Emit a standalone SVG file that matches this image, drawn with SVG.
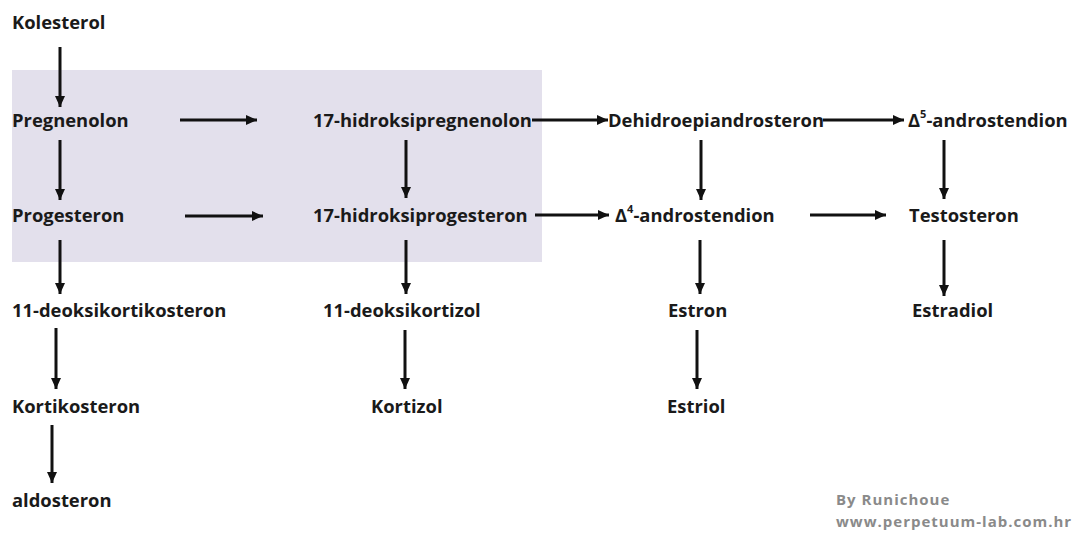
<svg xmlns="http://www.w3.org/2000/svg" width="1077" height="533" viewBox="0 0 1077 533">
<style>
.t{font-family:"Open Sans","Liberation Sans",sans-serif;font-weight:bold;font-size:18.4px;fill:#1a1a1a;dominant-baseline:central}
.c{font-family:"Open Sans","Liberation Sans",sans-serif;font-weight:bold;font-size:15px;letter-spacing:1px;fill:#8a8a8a;dominant-baseline:central}
.a{stroke:#111;stroke-width:3;fill:none;marker-end:url(#ah)}
</style>
<defs>
<marker id="ah" markerUnits="userSpaceOnUse" markerWidth="12" markerHeight="12" refX="11" refY="6" orient="auto">
<path d="M0,1 L11,6 L0,11 Z" fill="#111"/>
</marker>
</defs>
<rect width="1077" height="533" fill="#fff"/>
<rect x="12" y="70" width="530" height="192" fill="#e3e0ec"/>
<g id="connectors">
<line class="a" x1="60" y1="47" x2="60" y2="107"/>
<line class="a" x1="180" y1="120" x2="257" y2="120"/>
<line class="a" x1="60" y1="140" x2="60" y2="200"/>
<line class="a" x1="185" y1="216" x2="263" y2="216"/>
<line class="a" x1="406" y1="140" x2="406" y2="198"/>
<line class="a" x1="532" y1="120" x2="608" y2="120"/>
<line class="a" x1="823" y1="120" x2="904" y2="120"/>
<line class="a" x1="701" y1="140" x2="701" y2="200"/>
<line class="a" x1="944" y1="140" x2="944" y2="199"/>
<line class="a" x1="535" y1="215" x2="609" y2="215"/>
<line class="a" x1="810" y1="215" x2="886" y2="215"/>
<line class="a" x1="60" y1="240" x2="60" y2="294"/>
<line class="a" x1="406" y1="240" x2="406" y2="294"/>
<line class="a" x1="700" y1="240" x2="700" y2="294"/>
<line class="a" x1="944" y1="240" x2="944" y2="296"/>
<line class="a" x1="56" y1="328" x2="56" y2="389"/>
<line class="a" x1="405" y1="330" x2="405" y2="389"/>
<line class="a" x1="697" y1="330" x2="697" y2="389"/>
<line class="a" x1="52" y1="425" x2="52" y2="483"/>
</g>
<g id="kolesterol"><text class="t" x="12" y="21">Kolesterol</text></g>
<g id="pregnenolon"><text class="t" x="12" y="119">Pregnenolon</text></g>
<g id="progesteron"><text class="t" x="12" y="214">Progesteron</text></g>
<g id="deoksikortikosteron"><text class="t" x="12" y="309">11-deoksikortikosteron</text></g>
<g id="kortikosteron"><text class="t" x="12" y="405">Kortikosteron</text></g>
<g id="aldosteron"><text class="t" x="12" y="499">aldosteron</text></g>
<g id="hidroksipregnenolon"><text class="t" x="313" y="119">17-hidroksipregnenolon</text></g>
<g id="hidroksiprogesteron"><text class="t" x="313" y="214">17-hidroksiprogesteron</text></g>
<g id="deoksikortizol"><text class="t" x="323" y="309">11-deoksikortizol</text></g>
<g id="kortizol"><text class="t" x="371" y="405">Kortizol</text></g>
<g id="dhea"><text class="t" x="608" y="119">Dehidroepiandrosteron</text></g>
<g id="d5"><text class="t" x="908" y="119">Δ<tspan font-size="11" dy="-6">5</tspan><tspan dy="6">-androstendion</tspan></text></g>
<g id="d4"><text class="t" x="615" y="214">Δ<tspan font-size="11" dy="-6">4</tspan><tspan dy="6">-androstendion</tspan></text></g>
<g id="testosteron"><text class="t" x="909" y="214">Testosteron</text></g>
<g id="estron"><text class="t" x="668" y="309">Estron</text></g>
<g id="estriol"><text class="t" x="667" y="405">Estriol</text></g>
<g id="estradiol"><text class="t" x="912" y="309">Estradiol</text></g>
<g id="credit">
<text class="c" x="836" y="499">By Runichoue</text>
<text class="c" x="836" y="521">www.perpetuum-lab.com.hr</text>
</g>
</svg>
